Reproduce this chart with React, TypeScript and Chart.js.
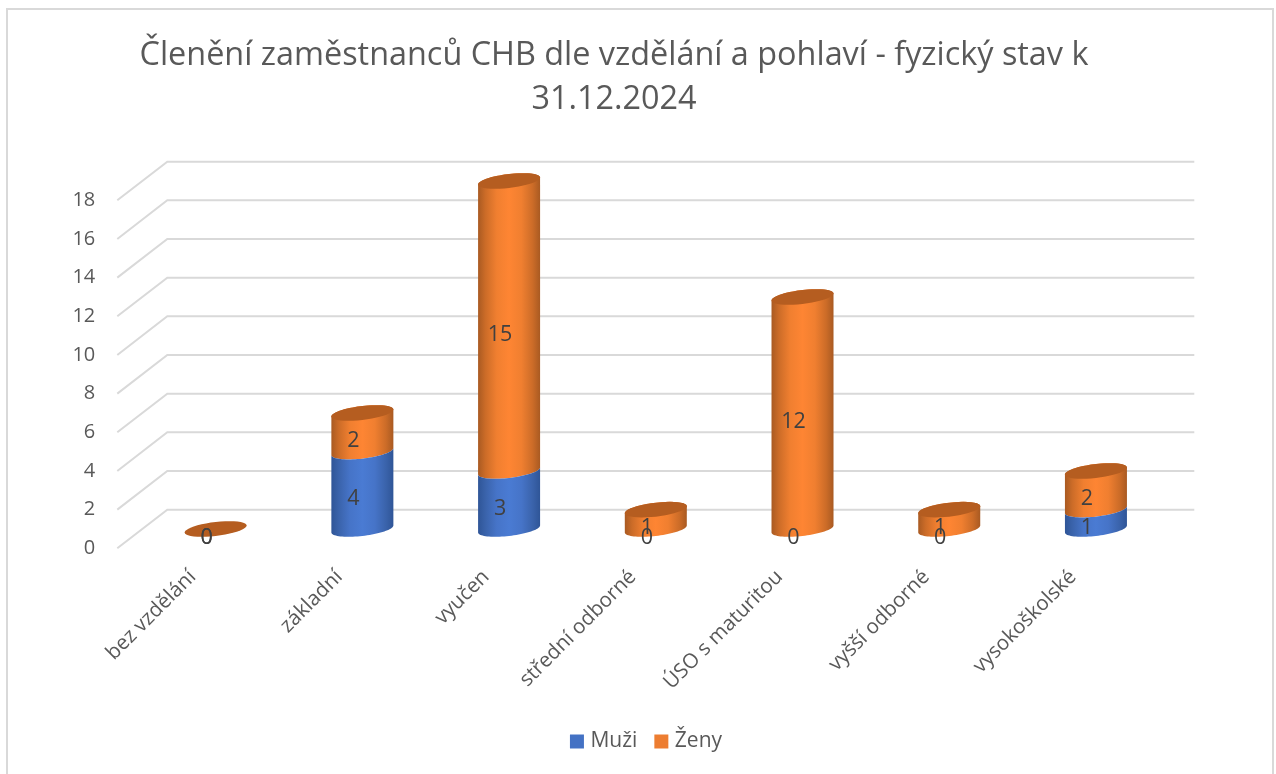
import React, { useEffect, useRef } from "react";
import { Chart, BarController, registerables } from "chart.js";

const TITLE_LINES = ["Členění zaměstnanců CHB dle vzdělání a pohlaví - fyzický stav k", "31.12.2024"];
const CATEGORIES = ["bez vzdělání", "základní", "vyučen", "střední odborné", "ÚSO s maturitou", "vyšší odborné", "vysokoškolské"];
const MUZI = [0, 4, 3, 0, 0, 0, 1];
const ZENY = [0, 2, 15, 1, 12, 1, 2];

const FONT = "'Open Sans', 'Noto Sans', sans-serif";
const GRID = "#d9d9d9";
const DEPTH_X = 50;
const SHEAR = 3.5;
const RY = 7;

function arc(ctx: CanvasRenderingContext2D, cx: number, cy: number, r: number, from: number, to: number) {
  const n = 40;
  for (let i = 0; i <= n; i++) {
    const t = from + ((to - from) * i) / n;
    ctx.lineTo(cx + r * Math.cos(t), cy + RY * Math.sin(t) - SHEAR * Math.cos(t));
  }
}

class CylinderController extends BarController {
  static id = "cylinderBar";
  draw() {
    const self = this as any;
    const ctx: CanvasRenderingContext2D = self.chart.ctx;
    const ds = self.getDataset();
    const yScale = self.chart.scales.y;
    const dy = (yScale.getPixelForValue(0) - yScale.getPixelForValue(2)) / 2;
    for (const el of self._cachedMeta.data) {
      const cx = el.x + DEPTH_X / 2;
      const yt = el.y - dy;
      const yb = el.base - dy;
      const r = el.width / 2;
      if (yb - yt > 0.01) {
        const g = ctx.createLinearGradient(cx - r, 0, cx + r, 0);
        g.addColorStop(0, ds.shade[0]);
        g.addColorStop(0.12, ds.shade[1]);
        g.addColorStop(0.3, ds.shade[2]);
        g.addColorStop(0.5, ds.shade[3]);
        g.addColorStop(0.7, ds.shade[2]);
        g.addColorStop(0.88, ds.shade[1]);
        g.addColorStop(1, ds.shade[0]);
        ctx.save();
        ctx.fillStyle = g;
        ctx.beginPath();
        if (ds.isTop) arc(ctx, cx, yt, r, Math.PI, 2 * Math.PI);
        else arc(ctx, cx, yt, r, Math.PI, 0);
        arc(ctx, cx, yb, r, 0, Math.PI);
        ctx.closePath();
        ctx.fill();
        ctx.restore();
      }
      if (ds.isTop) {
        ctx.save();
        ctx.fillStyle = ds.cap;
        ctx.beginPath();
        arc(ctx, cx, yt, r, 0, 2 * Math.PI);
        ctx.closePath();
        ctx.fill();
        ctx.restore();
      }
    }
  }
}

Chart.register(...registerables, CylinderController);

const decorPlugin = {
  id: "decor",
  afterLayout(chart: any) {
    chart.titleBlock.left = 0;
    chart.titleBlock.right = 1228;
    chart.legend.left = 0;
    chart.legend.right = 1296;
  },
  beforeDraw(chart: any) {
    const ctx = chart.ctx;
    ctx.save();
    ctx.strokeStyle = GRID;
    ctx.lineWidth = 2;
    ctx.beginPath();
    ctx.moveTo(7, chart.height);
    ctx.lineTo(7, 9);
    ctx.lineTo(1273, 9);
    ctx.lineTo(1273, chart.height);
    ctx.stroke();
    ctx.restore();
  },
  beforeDatasetsDraw(chart: any) {
    const { ctx, chartArea, scales } = chart;
    const dy = scales.y.getPixelForValue(0) - scales.y.getPixelForValue(2);
    ctx.save();
    ctx.strokeStyle = GRID;
    ctx.lineWidth = 2;
    for (const t of scales.y.ticks) {
      const py = scales.y.getPixelForValue(t.value);
      ctx.beginPath();
      ctx.moveTo(chartArea.left, py);
      ctx.lineTo(chartArea.left + DEPTH_X, py - dy);
      ctx.lineTo(chartArea.right + DEPTH_X, py - dy);
      ctx.stroke();
    }
    ctx.restore();
  },
  afterDatasetsDraw(chart: any) {
    const { ctx, scales } = chart;
    const dy = (scales.y.getPixelForValue(0) - scales.y.getPixelForValue(2)) / 2;
    ctx.save();
    ctx.fillStyle = "#404040";
    ctx.font = `21.5px ${FONT}`;
    ctx.textAlign = "center";
    ctx.textBaseline = "middle";
    chart.data.datasets.forEach((ds: any, i: number) => {
      chart.getDatasetMeta(i).data.forEach((el: any, j: number) => {
        const mid = (el.y + el.base) / 2;
        ctx.fillText(String(ds.data[j]), el.x + DEPTH_X / 2 - 9, mid - dy + 9);
      });
    });
    ctx.restore();
  },
};

export default function App() {
  const ref = useRef<HTMLCanvasElement>(null);
  useEffect(() => {
    const chart = new Chart(ref.current!, {
      type: "cylinderBar" as any,
      data: {
        labels: CATEGORIES,
        datasets: [
          {
            label: "Muži",
            data: MUZI,
            backgroundColor: "#4472c4",
            borderColor: "#4472c4",
            borderWidth: 8,
            clip: false,
            stack: "s",
            isTop: false,
            shade: ["#2f5597", "#3a63ab", "#4674c8", "#4a7bd3"],
            cap: "#35588f",
          },
          {
            label: "Ženy",
            data: ZENY,
            backgroundColor: "#ed7d31",
            borderColor: "#ed7d31",
            borderWidth: 8,
            clip: false,
            stack: "s",
            isTop: true,
            shade: ["#a95a22", "#cc6c28", "#f07f30", "#fe8533"],
            cap: "#b55d20",
          },
        ] as any,
      },
      options: {
        responsive: false,
        animation: false,
        categoryPercentage: 0.4226,
        barPercentage: 1,
        layout: { padding: { left: 0, right: 131.7, top: 0, bottom: 12 } },
        scales: {
          x: {
            type: "category",
            stacked: true,
            grid: { display: false, drawTicks: false },
            border: { display: false },
            ticks: {
              autoSkip: false,
              minRotation: 45,
              maxRotation: 45,
              padding: 16.7,
              labelOffset: 2,
              color: "#595959",
              font: { family: FONT, size: 20.5 },
            },
            afterFit(s: any) {
              s.height = 161.7;
            },
          },
          y: {
            type: "linear",
            stacked: true,
            min: 0,
            max: 18,
            grid: { display: false, drawTicks: false },
            border: { display: false },
            ticks: {
              stepSize: 2,
              padding: 22,
              color: "#595959",
              font: { family: FONT, size: 20 },
            },
            afterFit(s: any) {
              s.width = 117.3;
            },
          },
        },
        plugins: {
          title: {
            display: true,
            text: TITLE_LINES,
            color: "#595959",
            font: { family: FONT, size: 32.4, weight: "normal", lineHeight: 1.358 },
            padding: { top: 33.5, bottom: 78.8 },
          },
          legend: {
            position: "bottom",
            labels: {
              boxWidth: 6,
              boxHeight: 6,
              padding: 21,
              color: "#595959",
              font: { family: FONT, size: 21 },
            },
          },
          tooltip: { enabled: false },
        },
      } as any,
      plugins: [decorPlugin],
    });
    return () => chart.destroy();
  }, []);
  return <canvas ref={ref} width={1276} height={774} style={{ position: "absolute", left: 0, top: 0, display: "block" }} />;
}
